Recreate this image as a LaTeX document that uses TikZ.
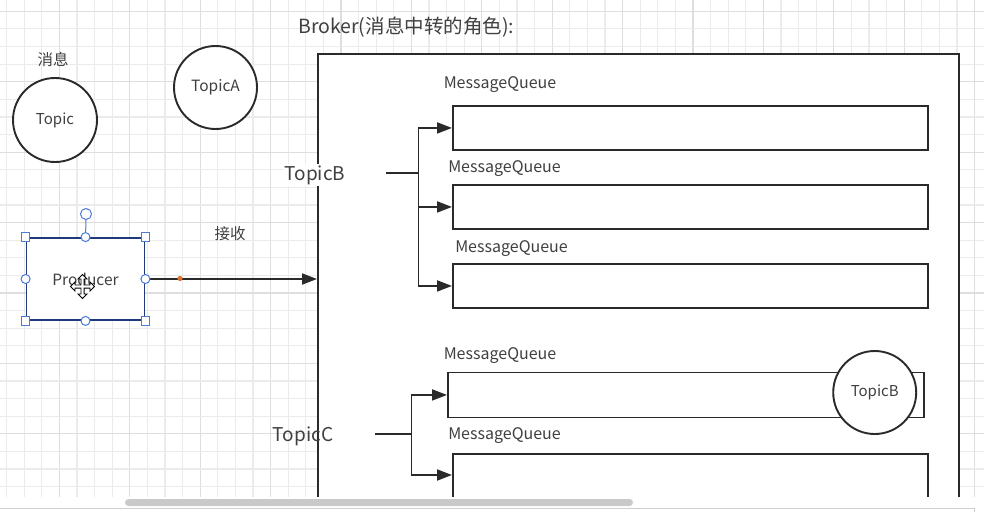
\documentclass[tikz,border=0pt]{standalone}
\usepackage{fontspec}
\setmainfont{Noto Sans CJK SC}
\usetikzlibrary{arrows.meta}
\definecolor{ln}{HTML}{2A2A2A}
\definecolor{tx}{HTML}{404040}
\definecolor{gmin}{HTML}{EBEBEB}
\definecolor{gmaj}{HTML}{DEDEDE}
\definecolor{sel}{HTML}{4A7BD6}
\definecolor{navy}{HTML}{1E3A7B}
\definecolor{dotc}{HTML}{E0702A}
\definecolor{thumb}{HTML}{C9C9C9}
\definecolor{sbline}{HTML}{CFCFCF}
\newcommand{\dn}[1]{\raisebox{-2pt}{#1}}
\tikzset{
  box/.style={draw=ln, fill=white, line width=1.9pt, inner sep=0pt, anchor=north west},
  topic/.style={circle, draw=ln, fill=white, line width=1.9pt, inner sep=0pt, text=tx, font=\fontsize{15}{17}\selectfont},
  lbl/.style={text=tx, inner sep=0pt, yshift=-2pt, font=\fontsize{15.5}{17}\selectfont},
  mql/.style={text=tx, inner sep=0pt, yshift=-2pt, font=\fontsize{16}{18}\selectfont},
  big/.style={text=tx, inner sep=0pt, yshift=-2pt, font=\fontsize{19.5}{22}\selectfont},
  arr/.style={draw=ln, line width=1.9pt, -{Triangle[length=15pt,width=11pt]}},
  conn/.style={draw=ln, line width=1.9pt},
  hsq/.style={draw=sel, fill=white, line width=1pt, minimum size=8.5pt, inner sep=0pt},
  hci/.style={circle, draw=sel, fill=white, line width=1pt, minimum size=9pt, inner sep=0pt},
}
\begin{document}
\begin{tikzpicture}[x=1pt,y=-1pt]
\useasboundingbox (0,0) rectangle (984,511);
\fill[white] (0,0) rectangle (984,511);
% grid
\foreach \i in {0,...,55} {
  \pgfmathtruncatemacro{\m}{mod(\i,4)}
  \ifnum\m=3 \def\gc{gmaj}\else\def\gc{gmin}\fi
  \draw[\gc, line width=1.2pt] ({6.5+17.6*\i},0) -- ({6.5+17.6*\i},497);
}
\foreach \j in {0,...,27} {
  \pgfmathtruncatemacro{\m}{mod(\j,4)}
  \ifnum\m=0 \def\gc{gmaj}\else\def\gc{gmin}\fi
  \draw[\gc, line width=1.2pt] (0,{11.3+17.6*\j}) -- (984,{11.3+17.6*\j});
}

% broker
\node (broker) [box, minimum width=641pt, minimum height=452pt] at (317,53) {};
\node (title) [big, anchor=west] at (298,25) {Broker(消息中转的角色):};

% message queues
\node (mq1) [box, minimum width=475pt, minimum height=44pt] at (452,105) {};
\node (mq2) [box, minimum width=475pt, minimum height=44pt] at (452,184) {};
\node (mq3) [box, minimum width=475pt, minimum height=44pt] at (452,263) {};
\node (mq4) [box, minimum width=476pt, minimum height=45pt] at (447,371.5) {};
\node (mq5) [box, minimum width=475pt, minimum height=52pt] at (452,453) {};
\node (l1) [mql] at (500,83) {MessageQueue};
\node (l2) [mql] at (504.5,167) {MessageQueue};
\node (l3) [mql] at (511.5,247) {MessageQueue};
\node (l4) [mql] at (500,354) {MessageQueue};
\node (l5) [mql] at (504.5,434) {MessageQueue};

% topic labels
\node (tb) [big, fill=white, inner sep=1pt, font=\fontsize{19}{21}\selectfont] at (315,173) {TopicB};
\node (tc) [big, font=\fontsize{19}{21}\selectfont] at (303,434) {TopicC};

% TopicB branches
\coordinate (bs) at (386,173);
\coordinate (bj) at (418.5,173);
\draw[conn] (bs) -- (bj);
\draw[arr] (bj) |- (mq1.west);
\draw[arr] (bj) |- (mq2.west);
\draw[arr] (bj) |- (mq3.west);

% TopicC branches
\coordinate (cs) at (375,434);
\coordinate (cj) at (411.5,434);
\coordinate (c5) at (452,475);
\draw[conn] (cs) -- (cj);
\draw[arr] (cj) |- (mq4.west);
\draw[arr] (cj) |- (c5);

% circles
\node (topic) [topic, minimum size=84pt] at (55,120) {\dn{Topic}};
\node (topica) [topic, minimum size=83pt, font=\fontsize{15.5}{17}\selectfont] at (215.5,87.5) {\dn{TopicA}};
\node (topicb) [topic, minimum size=83pt] at (874.7,392.5) {\dn{TopicB}};
\node (msg) [lbl] at (53,58) {消息};
\node (recv) [lbl] at (230,232) {接收};

% producer (selected)
\node (prod) [draw=navy, fill=white, line width=1.8pt, minimum width=118pt, minimum height=82pt, inner sep=0pt, text=tx, font=\fontsize{15.5}{17}\selectfont] at (85.5,279) {\dn{Producer}};
\draw[arr] (prod.east) -- (broker.west |- prod.east);
\fill[dotc] (180,278.5) circle (2.6pt);
\node (rot) [hci, minimum size=11pt] at (86,214) {};
\draw[sel, line width=1pt] (rot.south) -- (prod.north);
\node[hsq] at (prod.north west) {};
\node[hsq] at (prod.north east) {};
\node[hsq] at (prod.south west) {};
\node[hsq] at (prod.south east) {};
\node[hci] at (prod.north) {};
\node[hci] at (prod.south) {};
\node[hci] at (prod.west) {};
\node[hci] at (prod.east) {};
% move cursor
\begin{scope}[shift={(82.5,286.5)}]
\filldraw[fill=white, draw=black, line width=0.8pt, line join=miter]
 (0,-12) -- (4.5,-7.5) -- (1.6,-7.5) -- (1.6,-1.6) -- (7.5,-1.6) -- (7.5,-4.5) -- (12,0) -- (7.5,4.5) -- (7.5,1.6) -- (1.6,1.6) -- (1.6,7.5) -- (4.5,7.5) -- (0,12) -- (-4.5,7.5) -- (-1.6,7.5) -- (-1.6,1.6) -- (-7.5,1.6) -- (-7.5,4.5) -- (-12,0) -- (-7.5,-4.5) -- (-7.5,-1.6) -- (-1.6,-1.6) -- (-1.6,-7.5) -- (-4.5,-7.5) -- cycle;
\end{scope}

% bottom scrollbar strip
\fill[white] (-2,497) rectangle (986,514);
\fill[thumb, rounded corners=3.5pt] (125,499) rectangle (633,506);
\draw[sbline, line width=1pt] (0,508.5) -- (974,508.5) -- (974,512);
\end{tikzpicture}
\end{document}
